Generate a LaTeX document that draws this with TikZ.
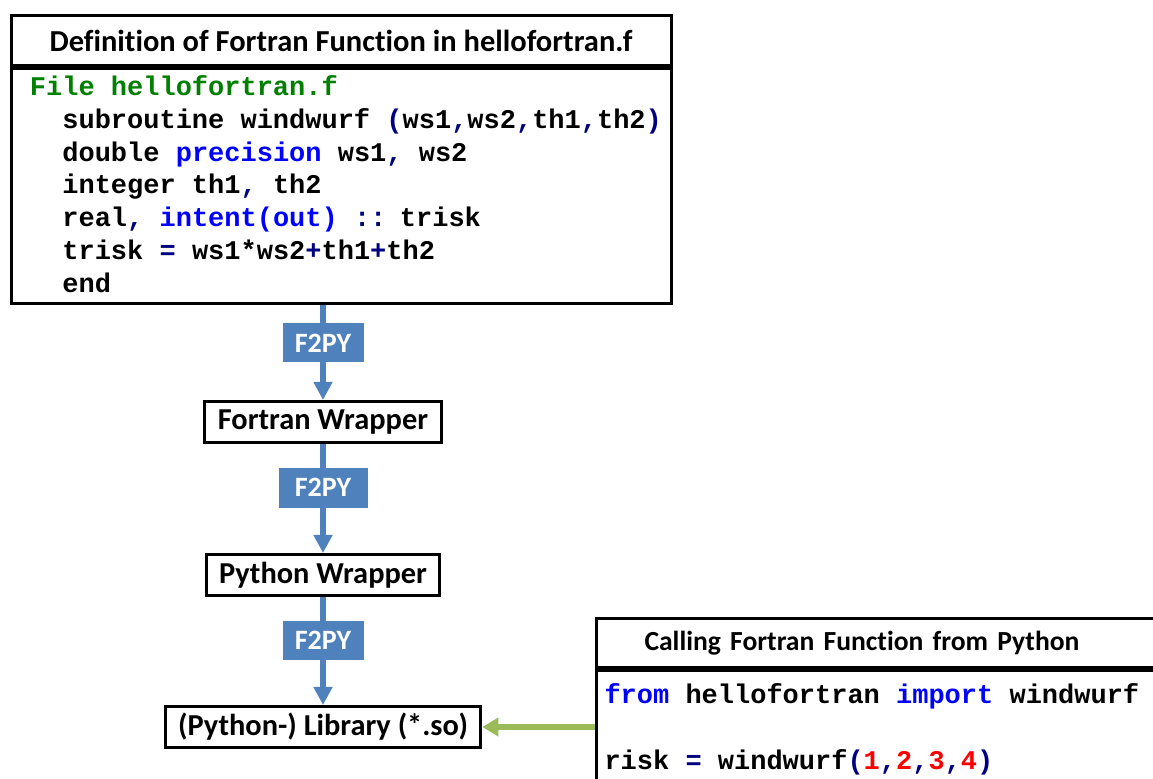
\documentclass[tikz,border=0pt]{standalone}
\usepackage{fontspec}
\newfontfamily\labelfont{Carlito}[Ligatures=NoCommon]
\newfontfamily\codefont{Liberation Mono}[WordSpace={1,0,0}]
\usetikzlibrary{arrows.meta, positioning}

\definecolor{fgreen}{RGB}{0,128,0}
\definecolor{navy}{RGB}{0,0,128}
\definecolor{kwblue}{RGB}{0,0,255}
\definecolor{numred}{RGB}{255,0,0}
\definecolor{f2pyblue}{RGB}{79,129,189}
\definecolor{callgreen}{RGB}{155,187,89}

\newcommand\kw[1]{\textcolor{kwblue}{#1}}
\newcommand\nv[1]{\textcolor{navy}{#1}}
\newcommand\nr[1]{\textcolor{numred}{#1}}
\newcommand\ind{\hspace*{1.2em}}

\tikzset{
    headbox/.style={draw, line width=1.5pt, fill=white, inner ysep=0pt, font=\labelfont\bfseries\fontsize{13.8}{16}\selectfont},
    codebox/.style={draw, line width=1.5pt, fill=white, align=left, inner ysep=0pt, font=\codefont\bfseries\fontsize{13.5}{16.4}\selectfont, execute at begin node={\spaceskip=0.6em\relax}},
    wrapbox/.style={draw, line width=1.5pt, fill=white, inner xsep=6.5pt, inner ysep=0pt, minimum height=20.5pt, font=\labelfont\bfseries\fontsize{15.2}{18}\selectfont},
    f2py/.style={fill=f2pyblue, text=white, inner sep=0pt, minimum width=40.5pt, minimum height=19.5pt, pos=0.4, font=\labelfont\bfseries\fontsize{14}{16}\selectfont},
    flow/.style={draw=f2pyblue, line width=3pt, -{Triangle[length=9pt, width=9pt]}},
    callflow/.style={draw=callgreen, line width=3pt, -{Triangle[length=8pt, width=9pt]}}
}

\begin{document}
\begin{tikzpicture}[x=0.5pt, y=-0.5pt]
    \useasboundingbox (0,0) rectangle (1153,779);

    % Fortran source
    \node[headbox, anchor=north west, minimum width=330pt, minimum height=25pt, font=\labelfont\bfseries\fontsize{15.25}{18}\selectfont] (defhead) at (9.5,14) {Definition of Fortran Function in hellofortran.f};
    \node[codebox, anchor=north, inner xsep=9.5pt, inner ysep=-1.5pt, text width=311pt, minimum height=117.5pt, execute at end node={\par\kern2pt}] (defcode) at (defhead.south) {
        \textcolor{fgreen}{File hellofortran.f}\\
        \ind\mbox{subroutine windwurf \nv{(}ws1\nv{,}ws2\nv{,}th1\nv{,}th2\nv{)}}\\
        \ind double \kw{precision} ws1\nv{,} ws2\\
        \ind integer th1\nv{,} th2\\
        \ind real\nv{,} \kw{intent(out)} \nv{::} trisk\\
        \ind trisk \nv{=} ws1*ws2\nv{+}th1\nv{+}th2\\
        \ind end
    };

    % wrapper chain
    \node[wrapbox, below=47.5pt of defcode, xshift=-9pt] (fwrap) {Fortran Wrapper};
    \node[wrapbox, below=54.5pt of fwrap] (pwrap) {Python Wrapper};
    \node[wrapbox, below=54pt of pwrap] (lib) {(Python-) Library (*.so)};

    \draw[flow] (defcode.south -| fwrap) -- node[f2py] {F2PY} (fwrap);
    \draw[flow] (fwrap) -- node[f2py, minimum width=44.5pt, minimum height=20pt] {F2PY} (pwrap);
    \draw[flow] (pwrap) -- node[f2py] {F2PY} (lib);

    % Python call
    \node[headbox, anchor=north west, align=left, inner xsep=24pt, text width=239.5pt, minimum height=24.5pt] (callhead) at (595,617) {Calling Fortran Function from Python};
    \node[codebox, anchor=north west, inner xsep=4pt, text width=279.5pt, minimum height=59pt] (callcode) at (callhead.south west) {
        \kw{from} hellofortran \kw{import} windwurf\\[16.4pt]
        risk \nv{=} windwurf\nv{(}\nr{1}\nv{,}\nr{2}\nv{,}\nr{3}\nv{,}\nr{4}\nv{)}
    };

    \draw[callflow] (callcode.west |- lib) -- (lib);
\end{tikzpicture}
\end{document}
